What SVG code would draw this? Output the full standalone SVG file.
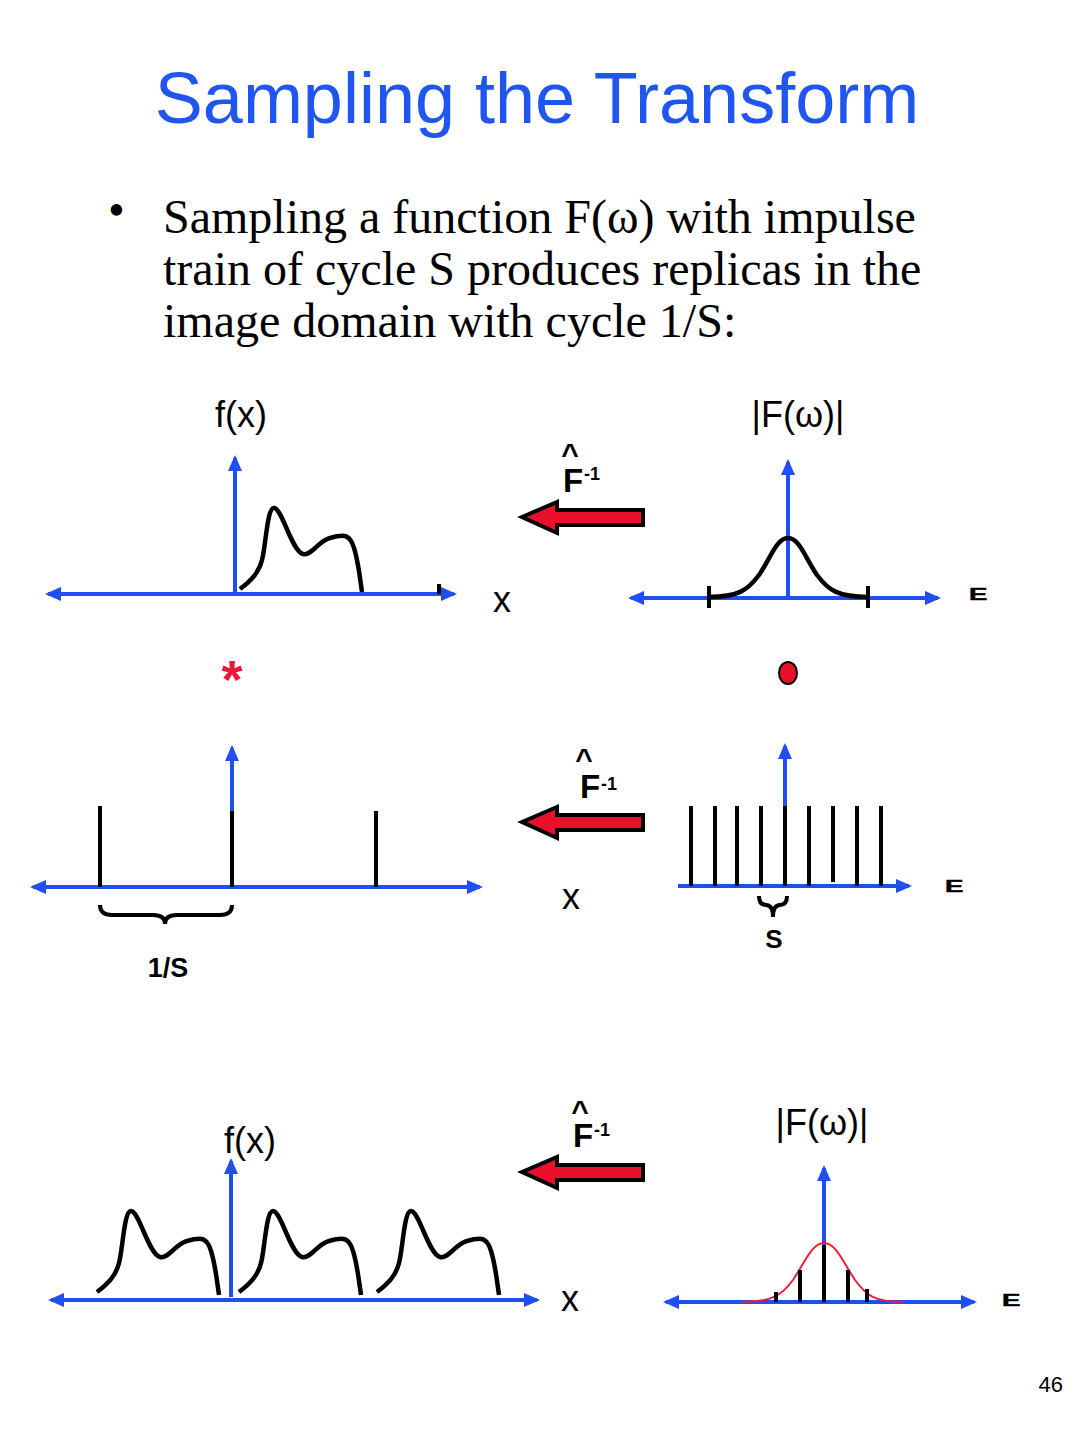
<svg xmlns="http://www.w3.org/2000/svg" xmlns:xlink="http://www.w3.org/1999/xlink" width="1080" height="1440" viewBox="0 0 1080 1440">
<style>
.ax{stroke:#1f4ff0;stroke-width:4;fill:none}
.k{stroke:#000;stroke-width:4;fill:none}
.crv{stroke:#000;stroke-width:4.5;fill:none;stroke-linejoin:round}
.red{stroke:#e8203a;stroke-width:2;fill:none}
.arr{fill:#e8102a;stroke:#000;stroke-width:4;stroke-linejoin:miter}
.lbl{font-family:"Liberation Sans",Arial,sans-serif;font-size:36px;fill:#000}
.fb{font-family:"Liberation Sans",Arial,sans-serif;font-weight:bold;fill:#000}
.om{font-family:"Liberation Sans",Arial,sans-serif;font-weight:bold;font-size:19px;fill:#000;stroke:#000;stroke-width:0.6}
</style>
<defs>
<marker id="ah" viewBox="0 0 16 14" refX="13" refY="7" markerWidth="16" markerHeight="14" markerUnits="userSpaceOnUse" orient="auto-start-reverse"><path d="M0,0 L16,7 L0,14 z" fill="#1f4ff0"/></marker>
<path id="hump" d="M0,0 C12,-9 19,-17 22,-29 C26,-44 27,-81 34,-81 C42,-81 52,-37 63,-35 C72,-33 78,-48 90,-51 C104,-55 110,-55 114,-41 C118,-29 120,-11 122,3"/>
<polygon id="farrow" points="0,0 35,-15 35,-7 121,-7 121,8 35,8 35,16"/>
</defs>

<text x="537" y="123" text-anchor="middle" font-family="Liberation Sans,Arial,sans-serif" font-size="72" fill="#1f56f0">Sampling the Transform</text>

<g id="bullet" font-family="Liberation Serif,'Times New Roman',serif" font-size="48" fill="#000">
<text x="108" y="226">•</text>
<text x="163" y="233">Sampling a function F(ω) with impulse</text>
<text x="163" y="285">train of cycle S produces replicas in the</text>
<text x="163" y="337">image domain with cycle 1/S:</text>
</g>

<g id="connectors">
<use xlink:href="#farrow" href="#farrow" transform="translate(522,517)" class="arr"/>
<use xlink:href="#farrow" href="#farrow" transform="translate(522,822)" class="arr"/>
<use xlink:href="#farrow" href="#farrow" transform="translate(522,1172)" class="arr"/>
</g>

<g id="op1">
<text x="570" y="464" text-anchor="middle" class="fb" font-size="30">^</text>
<text x="563" y="492" class="fb" font-size="33">F</text>
<text x="584" y="480" class="fb" font-size="18">-1</text>
</g>
<g id="op2">
<text x="584" y="769" text-anchor="middle" class="fb" font-size="30">^</text>
<text x="580" y="798" class="fb" font-size="33">F</text>
<text x="601" y="790" class="fb" font-size="18">-1</text>
</g>
<g id="op3">
<text x="580" y="1121" text-anchor="middle" class="fb" font-size="30">^</text>
<text x="573" y="1147" class="fb" font-size="33">F</text>
<text x="594" y="1136" class="fb" font-size="18">-1</text>
</g>

<g id="graph-fx-top">
<text x="241" y="427" text-anchor="middle" class="lbl">f(x)</text>
<path class="ax" d="M48,594 L454,594" marker-start="url(#ah)" marker-end="url(#ah)"/>
<path class="ax" d="M235,596 L235,458" marker-end="url(#ah)"/>
<line x1="439" y1="584" x2="439" y2="594" class="k"/>
<use xlink:href="#hump" href="#hump" transform="translate(240,589)" class="crv"/>
<text x="493" y="612" class="lbl">x</text>
</g>

<g id="graph-Fw-top">
<text x="798" y="427" text-anchor="middle" class="lbl">|F(ω)|</text>
<path class="ax" d="M631,598 L938,598" marker-start="url(#ah)" marker-end="url(#ah)"/>
<path class="ax" d="M788,598 L788,462" marker-end="url(#ah)"/>
<line x1="709" y1="586" x2="709" y2="608" class="k" stroke-width="3"/>
<line x1="868" y1="586" x2="868" y2="608" class="k" stroke-width="3"/>
<path class="crv" d="M709,597 C738,597 748,590 759,575 C771,557 777,538 788,538 C799,538 805,557 817,575 C828,590 838,597 868,597"/>
<text transform="translate(969,600) scale(1.45,0.88)" class="om">E</text>
</g>

<text id="conv" x="232" y="698" text-anchor="middle" font-family="Liberation Sans,Arial,sans-serif" font-weight="bold" font-size="54" fill="#e8183a">*</text>
<ellipse id="mult" cx="788" cy="673" rx="9" ry="11" fill="#e8102a" stroke="#000" stroke-width="2"/>

<g id="graph-comb-x">
<path class="ax" d="M33,887 L480,887" marker-start="url(#ah)" marker-end="url(#ah)"/>
<path class="ax" d="M232,887 L232,748" marker-end="url(#ah)"/>
<line x1="100" y1="806" x2="100" y2="887" class="k"/>
<line x1="232" y1="811" x2="232" y2="887" class="k"/>
<line x1="376" y1="811" x2="376" y2="887" class="k"/>
<path class="k" d="M100,905 Q100,915 112,915 L153,915 Q165,915 165,924 Q165,915 177,915 L220,915 Q232,915 232,905"/>
<text x="168" y="977" text-anchor="middle" class="fb" font-size="27">1/S</text>
<text x="562" y="909" class="lbl">x</text>
</g>

<g id="graph-comb-w">
<path class="ax" d="M678,886 L909,886" marker-end="url(#ah)"/>
<path class="ax" d="M785,886 L785,746" marker-end="url(#ah)"/>
<g class="k">
<line x1="691" y1="806" x2="691" y2="886"/>
<line x1="715" y1="806" x2="715" y2="886"/>
<line x1="737" y1="806" x2="737" y2="886"/>
<line x1="761" y1="806" x2="761" y2="886"/>
<line x1="785" y1="806" x2="785" y2="886"/>
<line x1="809" y1="806" x2="809" y2="886"/>
<line x1="833" y1="806" x2="833" y2="882"/>
<line x1="857" y1="806" x2="857" y2="886"/>
<line x1="881" y1="806" x2="881" y2="886"/>
</g>
<path class="k" stroke-width="3.5" d="M759,896 Q759,905 766,905 Q773,905 773,917 Q773,905 780,905 Q787,905 787,896"/>
<text x="774" y="948" text-anchor="middle" class="fb" font-size="26">S</text>
<text transform="translate(945,892) scale(1.45,0.88)" class="om">E</text>
</g>

<g id="graph-fx-bottom">
<text x="250" y="1153" text-anchor="middle" class="lbl">f(x)</text>
<path class="ax" d="M51,1300 L537,1300" marker-start="url(#ah)" marker-end="url(#ah)"/>
<path class="ax" d="M231,1297 L231,1161" marker-end="url(#ah)"/>
<use xlink:href="#hump" href="#hump" transform="translate(97,1292)" class="crv"/>
<use xlink:href="#hump" href="#hump" transform="translate(239,1292)" class="crv"/>
<use xlink:href="#hump" href="#hump" transform="translate(377,1292)" class="crv"/>
<text x="561" y="1311" class="lbl">x</text>
</g>

<g id="graph-Fw-bottom">
<text x="822" y="1135" text-anchor="middle" class="lbl">|F(ω)|</text>
<path class="ax" d="M666,1302 L974,1302" marker-start="url(#ah)" marker-end="url(#ah)"/>
<path class="ax" d="M824,1302 L824,1168" marker-end="url(#ah)"/>
<path class="red" d="M742,1302 C772,1302 782,1295 793,1280 C805,1262 812,1243 824,1243 C836,1243 843,1262 855,1280 C866,1295 874,1302 903,1302"/>
<g class="k">
<line x1="776" y1="1292" x2="776" y2="1302"/>
<line x1="800" y1="1270" x2="800" y2="1302"/>
<line x1="824" y1="1245" x2="824" y2="1302"/>
<line x1="848" y1="1270" x2="848" y2="1302"/>
<line x1="867" y1="1289" x2="867" y2="1302"/>
</g>
<text transform="translate(1002,1306) scale(1.45,0.88)" class="om">E</text>
</g>

<text x="1063" y="1392" text-anchor="end" font-family="Liberation Sans,Arial,sans-serif" font-size="22" fill="#000">46</text>
</svg>
